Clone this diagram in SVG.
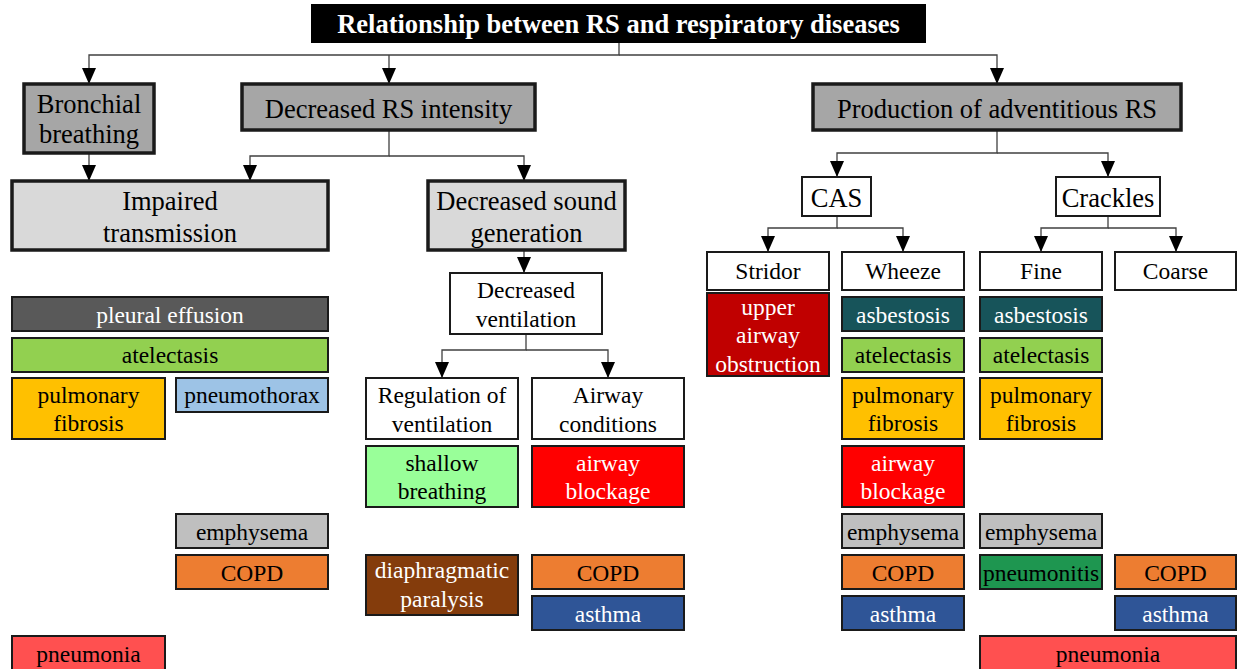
<svg xmlns="http://www.w3.org/2000/svg" width="1243" height="669" viewBox="0 0 1243 669" font-family="'Liberation Serif', 'Times New Roman', serif">
<style>
text{font-family:'Liberation Serif','Times New Roman',serif;text-anchor:middle;fill:#000}
.s{font-size:23.5px}
.b{font-size:26.5px}
.w{fill:#fff}
.thick{stroke:#1a1a1a;stroke-width:3.5}
.thin{stroke:#1a1a1a;stroke-width:2}
.con{fill:none;stroke:#404040;stroke-width:1.3}
</style>
<defs>
<marker id="ah" viewBox="0 0 16 14" refX="16" refY="7" markerWidth="16" markerHeight="14" markerUnits="userSpaceOnUse" orient="auto">
<path d="M0,0 L16,7 L0,14 z" fill="#000"/>
</marker>
</defs>
<rect width="1243" height="669" fill="#fff"/>
<g id="connectors">
<path class="con" d="M619,43 V55 H89 V84" marker-end="url(#ah)"/>
<path class="con" d="M389,55 V84" marker-end="url(#ah)"/>
<path class="con" d="M619,55 H997 V84" marker-end="url(#ah)"/>
<path class="con" d="M89,153 V181" marker-end="url(#ah)"/>
<path class="con" d="M389,130 V156 H250 V181" marker-end="url(#ah)"/>
<path class="con" d="M389,156 H524 V181" marker-end="url(#ah)"/>
<path class="con" d="M524,250 V273" marker-end="url(#ah)"/>
<path class="con" d="M526,334 V350 H442 V378" marker-end="url(#ah)"/>
<path class="con" d="M526,350 H608 V378" marker-end="url(#ah)"/>
<path class="con" d="M997,130 V153 H837 V177" marker-end="url(#ah)"/>
<path class="con" d="M997,153 H1108 V177" marker-end="url(#ah)"/>
<path class="con" d="M837,216 V228 H768 V252" marker-end="url(#ah)"/>
<path class="con" d="M837,228 H903 V252" marker-end="url(#ah)"/>
<path class="con" d="M1108,216 V228 H1041 V252" marker-end="url(#ah)"/>
<path class="con" d="M1108,228 H1176 V252" marker-end="url(#ah)"/>
</g>
<g id="title"><rect x="311" y="4" width="615" height="39" fill="#000"/><text x="618.5" y="33" class="w" style="font-size:26.5px;font-weight:bold">Relationship between RS and respiratory diseases</text></g>
<g id="bronchial"><rect x="24" y="84" width="130" height="69" fill="#a6a6a6" class="thick"/><text class="b" x="89" y="113">Bronchial</text><text class="b" x="89" y="143">breathing</text></g>
<g id="decreased-rs"><rect x="242" y="84" width="293" height="46" fill="#a6a6a6" class="thick"/><text class="b" x="388.5" y="117.5">Decreased RS intensity</text></g>
<g id="production"><rect x="813" y="84" width="368" height="46" fill="#a6a6a6" class="thick"/><text class="b" x="997" y="117.5">Production of adventitious RS</text></g>
<g id="impaired"><rect x="12" y="181" width="316" height="69" fill="#d9d9d9" class="thick"/><text class="b" x="170" y="210">Impaired</text><text class="b" x="170" y="242">transmission</text></g>
<g id="decreased-sound"><rect x="428" y="181" width="197" height="69" fill="#d9d9d9" class="thick"/><text class="b" x="526.5" y="210">Decreased sound</text><text class="b" x="526.5" y="242">generation</text></g>
<g id="decreased-vent"><rect x="450" y="273" width="152" height="61" fill="#fff" class="thin"/><text class="s" x="526" y="298">Decreased</text><text class="s" x="526" y="327">ventilation</text></g>
<g id="regulation"><rect x="366" y="378" width="152" height="61" fill="#fff" class="thin"/><text class="s" x="442" y="403">Regulation of</text><text class="s" x="442" y="432">ventilation</text></g>
<g id="airway-cond"><rect x="532" y="378" width="152" height="61" fill="#fff" class="thin"/><text class="s" x="608" y="403">Airway</text><text class="s" x="608" y="432">conditions</text></g>
<g id="cas"><rect x="802" y="177" width="69" height="39" fill="#fff" class="thin"/><text class="b" x="836.5" y="207">CAS</text></g>
<g id="crackles"><rect x="1056" y="177" width="104" height="39" fill="#fff" class="thin"/><text class="b" x="1108" y="207">Crackles</text></g>
<g id="stridor"><rect x="707" y="252" width="122" height="38" fill="#fff" class="thin"/><text class="s" x="768" y="279">Stridor</text></g>
<g id="wheeze"><rect x="842" y="252" width="122" height="38" fill="#fff" class="thin"/><text class="s" x="903" y="279">Wheeze</text></g>
<g id="fine"><rect x="980" y="252" width="122" height="38" fill="#fff" class="thin"/><text class="s" x="1041" y="279">Fine</text></g>
<g id="coarse"><rect x="1115" y="252" width="121" height="38" fill="#fff" class="thin"/><text class="s" x="1175.5" y="279">Coarse</text></g>

<g id="l-pleural"><rect x="12" y="297" width="316" height="34" fill="#595959" class="thin"/><text class="s w" x="170" y="323">pleural effusion</text></g>
<g id="l-atelectasis"><rect x="12" y="338" width="316" height="34" fill="#92d050" class="thin"/><text class="s" x="170" y="363">atelectasis</text></g>
<g id="l-fibrosis"><rect x="12" y="378" width="153" height="61" fill="#ffc000" class="thin"/><text class="s" x="88.5" y="402.5">pulmonary</text><text class="s" x="88.5" y="431">fibrosis</text></g>
<g id="l-pneumothorax"><rect x="176" y="378" width="152" height="34" fill="#9dc3e6" class="thin"/><text class="s" x="252" y="403">pneumothorax</text></g>
<g id="l-emphysema"><rect x="176" y="514" width="152" height="34" fill="#bfbfbf" class="thin"/><text class="s" x="252" y="540">emphysema</text></g>
<g id="l-copd"><rect x="176" y="555" width="152" height="34" fill="#ed7d31" class="thin"/><text class="s" x="252" y="581">COPD</text></g>
<g id="l-pneumonia"><rect x="12" y="636" width="153" height="40" fill="#ff5050" class="thin"/><text class="s" x="88.5" y="662">pneumonia</text></g>

<g id="m-shallow"><rect x="366" y="446" width="152" height="61" fill="#99ff99" class="thin"/><text class="s" x="442" y="471">shallow</text><text class="s" x="442" y="499">breathing</text></g>
<g id="m-blockage"><rect x="532" y="446" width="152" height="61" fill="#ff0000" class="thin"/><text class="s w" x="608" y="471">airway</text><text class="s w" x="608" y="499">blockage</text></g>
<g id="m-diaphragm"><rect x="366" y="555" width="152" height="60" fill="#843c0c" class="thin"/><text class="s w" x="442" y="578">diaphragmatic</text><text class="s w" x="442" y="607">paralysis</text></g>
<g id="m-copd"><rect x="532" y="555" width="152" height="34" fill="#ed7d31" class="thin"/><text class="s" x="608" y="581">COPD</text></g>
<g id="m-asthma"><rect x="532" y="596" width="152" height="34" fill="#2f5597" class="thin"/><text class="s w" x="608" y="622">asthma</text></g>

<g id="s-upper"><rect x="707" y="293" width="122" height="83" fill="#c00000" class="thin"/><text class="s w" x="768" y="315">upper</text><text class="s w" x="768" y="343">airway</text><text class="s w" x="768" y="372">obstruction</text></g>

<g id="w-asbestosis"><rect x="842" y="297" width="122" height="34" fill="#17545a" class="thin"/><text class="s w" x="903" y="323">asbestosis</text></g>
<g id="w-atelectasis"><rect x="842" y="338" width="122" height="34" fill="#92d050" class="thin"/><text class="s" x="903" y="363">atelectasis</text></g>
<g id="w-fibrosis"><rect x="842" y="378" width="122" height="61" fill="#ffc000" class="thin"/><text class="s" x="903" y="402.5">pulmonary</text><text class="s" x="903" y="431">fibrosis</text></g>
<g id="w-blockage"><rect x="842" y="446" width="122" height="61" fill="#ff0000" class="thin"/><text class="s w" x="903" y="471">airway</text><text class="s w" x="903" y="499">blockage</text></g>
<g id="w-emphysema"><rect x="842" y="514" width="122" height="34" fill="#bfbfbf" class="thin"/><text class="s" x="903" y="540">emphysema</text></g>
<g id="w-copd"><rect x="842" y="555" width="122" height="34" fill="#ed7d31" class="thin"/><text class="s" x="903" y="581">COPD</text></g>
<g id="w-asthma"><rect x="842" y="596" width="122" height="34" fill="#2f5597" class="thin"/><text class="s w" x="903" y="622">asthma</text></g>

<g id="f-asbestosis"><rect x="980" y="297" width="122" height="34" fill="#17545a" class="thin"/><text class="s w" x="1041" y="323">asbestosis</text></g>
<g id="f-atelectasis"><rect x="980" y="338" width="122" height="34" fill="#92d050" class="thin"/><text class="s" x="1041" y="363">atelectasis</text></g>
<g id="f-fibrosis"><rect x="980" y="378" width="122" height="61" fill="#ffc000" class="thin"/><text class="s" x="1041" y="402.5">pulmonary</text><text class="s" x="1041" y="431">fibrosis</text></g>
<g id="f-emphysema"><rect x="980" y="514" width="122" height="34" fill="#bfbfbf" class="thin"/><text class="s" x="1041" y="540">emphysema</text></g>
<g id="f-pneumonitis"><rect x="980" y="555" width="122" height="34" fill="#1e9650" class="thin"/><text class="s" x="1041" y="581">pneumonitis</text></g>

<g id="c-copd"><rect x="1115" y="555" width="121" height="34" fill="#ed7d31" class="thin"/><text class="s" x="1175.5" y="581">COPD</text></g>
<g id="c-asthma"><rect x="1115" y="596" width="121" height="34" fill="#2f5597" class="thin"/><text class="s w" x="1175.5" y="622">asthma</text></g>

<g id="r-pneumonia"><rect x="980" y="636" width="256" height="40" fill="#ff5050" class="thin"/><text class="s" x="1108" y="662">pneumonia</text></g>
</svg>
